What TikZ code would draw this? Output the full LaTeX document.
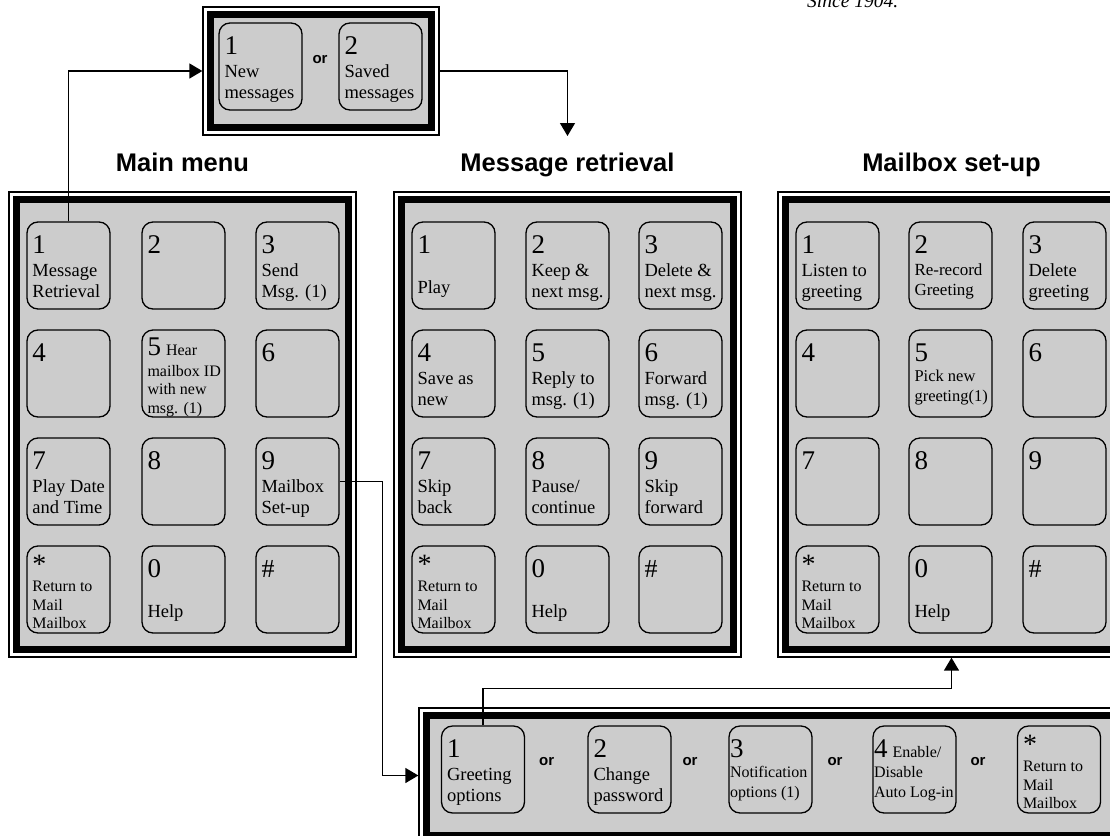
\documentclass[tikz,border=0pt]{standalone}
\usepackage{fontspec}
\setmainfont{Liberation Serif}
\setsansfont{Liberation Sans}
\usepackage{tikz}
\usetikzlibrary{arrows.meta}

\definecolor{keygray}{RGB}{204,204,204}
\newlength\kindent
\setlength\kindent{5.5pt}
\newcommand\kn[2][31pt]{\rule{0pt}{#1}{\fontsize{27}{27}\selectfont #2}}
\newcommand\ks{\rule{0pt}{27.4pt}{\fontsize{28}{28}\selectfont *}}
\newcommand\kh{\rule{0pt}{31pt}{\fontsize{26}{26}\selectfont\#}}

\tikzset{
  rim/.style={draw, line width=1.3pt, inner sep=0pt},
  band/.style={draw, line width=7pt, fill=keygray, inner sep=0pt},
  key/.style={draw, line width=1.3pt, fill=keygray, rounded corners=11pt, inner sep=0pt,
    minimum width=83pt, minimum height=87pt, font=\fontsize{18.5}{21}\selectfont,
    execute at begin node={\hbox to 83pt\bgroup\begin{minipage}[t][87pt][t]{200pt}\leftskip=\kindent},
    execute at end node={\end{minipage}\hss\egroup}},
  smallkey/.style={key, font=\fontsize{16}{18.5}\selectfont},
  tight/.code={\setlength\kindent{1pt}},
  notekey/.style={key, tight, font=\fontsize{16}{20}\selectfont},
  head/.style={anchor=base, font=\sffamily\bfseries\fontsize{25.5}{28}\selectfont},
  ortext/.style={font=\sffamily\bfseries\fontsize{15}{18}\selectfont},
  conn/.style={line width=1.4pt}
}

\begin{document}
\begin{tikzpicture}[x=1pt,y=-1pt,>={Triangle[length=13pt,width=15pt]}]
\useasboundingbox (0,0) rectangle (1110,835);
\clip (0,0) rectangle (1110,835);

\node[anchor=base west, inner sep=0pt, font=\itshape\fontsize{19.5}{22}\selectfont] (since) at (807,7) {Since 1904.};

\node[rim, minimum width=236pt, minimum height=128pt] (tbox) at (321,71) {};
\node[band, minimum width=221pt, minimum height=113pt] (tboxin) at (tbox) {};
\node[key] (t1) at (260.5,66.5) {\kn{1}\\[2pt]New\\messages};
\node[key] (t2) at (380.5,66.5) {\kn{2}\\[2pt]Saved\\messages};
\node[ortext] (tor) at (320,60) {or};

\node[head] (mmhead) at (182.5,171) {Main menu};
\node[head] (mrhead) at (567.5,171) {Message retrieval};
\node[head] (mshead) at (951.5,171) {Mailbox set-up};

\node[rim, minimum width=347pt, minimum height=465pt] (mmbox) at (182.5,424.5) {};
\node[band, minimum width=332pt, minimum height=450pt] (mmboxin) at (mmbox) {};
\node[key] (m1) at (68.5,265.5) {\kn{1}\\[2pt]Message\\Retrieval};
\node[key] (m2) at (183.5,265.5) {\kn{2}};
\node[key] (m3) at (297.5,265.5) {\kn{3}\\[2pt]Send\\Msg. (1)};
\node[key] (m4) at (68.5,373.5) {\kn{4}};
\node[smallkey] (m5) at (183.5,373.5) {\kn[25.7pt]{5}\hspace{5pt}Hear\\[2pt]mailbox ID\\with new\\msg. (1)};
\node[key] (m6) at (297.5,373.5) {\kn{6}};
\node[key] (m7) at (68.5,481.5) {\kn{7}\\[2pt]Play Date\\and Time};
\node[key] (m8) at (183.5,481.5) {\kn{8}};
\node[key] (m9) at (297.5,481.5) {\kn{9}\\[2pt]Mailbox\\Set-up};
\node[smallkey] (mstar) at (68.5,589.5) {\ks\\Return to\\Mail\\Mailbox};
\node[key] (m0) at (183.5,589.5) {\kn{0}\\[19pt]Help};
\node[key] (mhash) at (297.5,589.5) {\kh};

\node[rim, minimum width=347pt, minimum height=465pt] (mrbox) at (567.5,424.5) {};
\node[band, minimum width=332pt, minimum height=450pt] (mrboxin) at (mrbox) {};
\node[key] (r1) at (453.5,265.5) {\kn{1}\\[19pt]Play};
\node[key] (r2) at (567.5,265.5) {\kn{2}\\[2pt]Keep \&\\next msg.};
\node[key] (r3) at (680.5,265.5) {\kn{3}\\[2pt]Delete \&\\next msg.};
\node[key] (r4) at (453.5,373.5) {\kn{4}\\[2pt]Save as\\new};
\node[key] (r5) at (567.5,373.5) {\kn{5}\\[2pt]Reply to\\msg. (1)};
\node[key] (r6) at (680.5,373.5) {\kn{6}\\[2pt]Forward\\msg. (1)};
\node[key] (r7) at (453.5,481.5) {\kn{7}\\[2pt]Skip\\back};
\node[key] (r8) at (567.5,481.5) {\kn{8}\\[2pt]Pause/\\continue};
\node[key] (r9) at (680.5,481.5) {\kn{9}\\[2pt]Skip\\forward};
\node[smallkey] (rstar) at (453.5,589.5) {\ks\\Return to\\Mail\\Mailbox};
\node[key] (r0) at (567.5,589.5) {\kn{0}\\[19pt]Help};
\node[key] (rhash) at (680.5,589.5) {\kh};

\node[rim, minimum width=347pt, minimum height=465pt] (msbox) at (951.5,424.5) {};
\node[band, minimum width=332pt, minimum height=450pt] (msboxin) at (msbox) {};
\node[key] (s1) at (837.5,265.5) {\kn{1}\\[2pt]Listen to\\greeting};
\node[key, font=\fontsize{17}{20}\selectfont] (s2) at (950.5,265.5) {\kn{2}\\[2pt]Re-record\\Greeting};
\node[key] (s3) at (1064.5,265.5) {\kn{3}\\[2pt]Delete\\greeting};
\node[key] (s4) at (837.5,373.5) {\kn{4}};
\node[key, font=\fontsize{16.5}{20}\selectfont] (s5) at (950.5,373.5) {\kn{5}\\Pick new\\greeting(1)};
\node[key] (s6) at (1064.5,373.5) {\kn{6}};
\node[key] (s7) at (837.5,481.5) {\kn{7}};
\node[key] (s8) at (950.5,481.5) {\kn{8}};
\node[key] (s9) at (1064.5,481.5) {\kn{9}};
\node[smallkey] (sstar) at (837.5,589.5) {\ks\\Return to\\Mail\\Mailbox};
\node[key] (s0) at (950.5,589.5) {\kn{0}\\[19pt]Help};
\node[key] (shash) at (1064.5,589.5) {\kh};

\node[rim, minimum width=706pt, minimum height=135pt] (bbox) at (772,775.5) {};
\node[band, minimum width=691pt, minimum height=120pt] (bboxin) at (bbox) {};
\node[key] (b1) at (483,769.5) {\kn{1}\\[2pt]Greeting\\options};
\node[ortext] (bor1) at (546.7,761.7) {or};
\node[key] (b2) at (629.5,769.5) {\kn{2}\\[2pt]Change\\password};
\node[ortext] (bor2) at (690,761.7) {or};
\node[notekey] (b3) at (770.5,769.5) {\kn{3}\\Notification\\options (1)};
\node[ortext] (bor3) at (835,761.7) {or};
\node[notekey] (b4) at (914.5,769.5) {\kn{4}\hspace{5pt}Enable/\\Disable\\Auto Log-in};
\node[ortext] (bor4) at (978,761.7) {or};
\node[smallkey] (b5) at (1059,769.5) {\ks\\Return to\\Mail\\Mailbox};

\coordinate (mrin) at (567.5,136);
\draw[conn,->] (m1.north) |- (tbox.west);
\draw[conn,->] (tbox.east) -| (mrin);
\draw[conn,->] (m9.east) -- ++(43,0) |- (bbox.west);
\draw[conn,->] (b1.north) -- ++(0,-37) -| (msbox.south);
\end{tikzpicture}
\end{document}
